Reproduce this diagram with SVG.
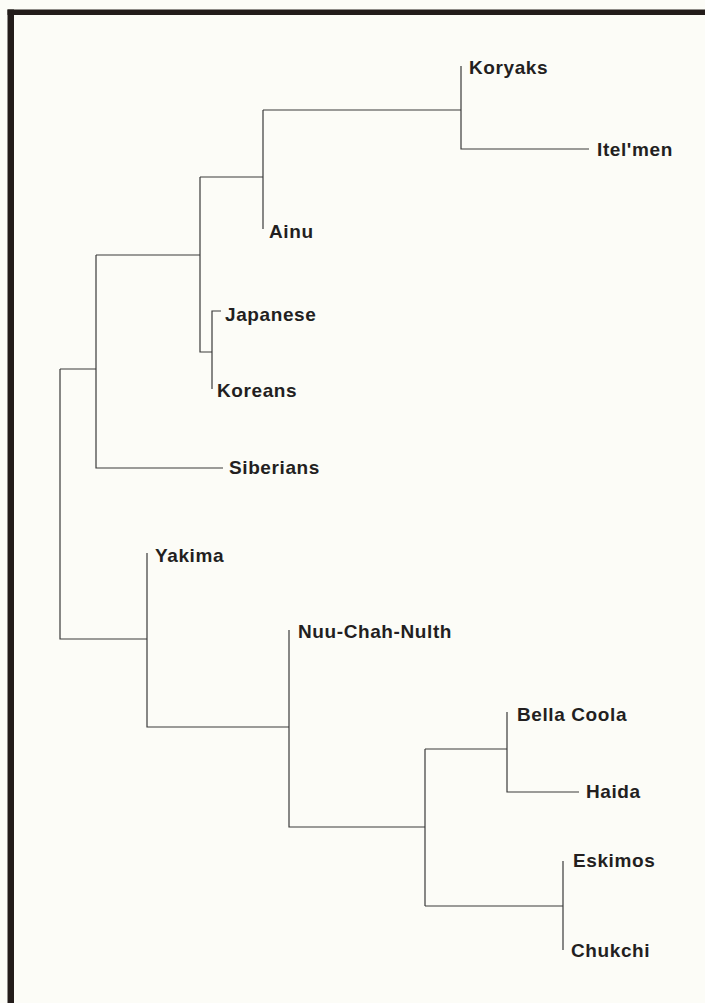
<svg xmlns="http://www.w3.org/2000/svg" width="705" height="1003" viewBox="0 0 705 1003">
<style>
.lbl{font-family:"Liberation Sans",Arial,sans-serif;font-weight:bold;font-size:19px;letter-spacing:0.6px;fill:#231f1f}
.br{stroke:#3a3a3a;stroke-width:1.2;fill:none}
.frame{fill:#231c1a}
</style>
<rect x="0" y="0" width="705" height="1003" fill="#fcfcf7"/>
<g id="frame">
<rect class="frame" x="7.5" y="9.5" width="6.5" height="994"/>
<rect class="frame" x="7.5" y="9.5" width="698" height="5.5"/>
</g>
<g id="connectors" class="br">
<path d="M461 66V149H589"/>
<path d="M263 110H461"/>
<path d="M263 110V229"/>
<path d="M200 177H263"/>
<path d="M200 177V352H212"/>
<path d="M221 311H212V389"/>
<path d="M96 255H200"/>
<path d="M96 255V468H223"/>
<path d="M60 369H96"/>
<path d="M60 369V639H147"/>
<path d="M147 553V727H289"/>
<path d="M289 630V827H425"/>
<path d="M425 749V906"/>
<path d="M425 749H507"/>
<path d="M507 712V792H579"/>
<path d="M425 906H563"/>
<path d="M563 861V950"/>
</g>
<g id="koryaks"><text class="lbl" x="469" y="74">Koryaks</text></g>
<g id="itelmen"><text class="lbl" x="597" y="156">Itel'men</text></g>
<g id="ainu"><text class="lbl" x="269" y="238">Ainu</text></g>
<g id="japanese"><text class="lbl" x="225" y="321">Japanese</text></g>
<g id="koreans"><text class="lbl" x="217" y="397">Koreans</text></g>
<g id="siberians"><text class="lbl" x="229" y="474">Siberians</text></g>
<g id="yakima"><text class="lbl" x="155" y="562">Yakima</text></g>
<g id="nuu-chah-nulth"><text class="lbl" x="298" y="638">Nuu-Chah-Nulth</text></g>
<g id="bella-coola"><text class="lbl" x="517" y="721">Bella Coola</text></g>
<g id="haida"><text class="lbl" x="586" y="798">Haida</text></g>
<g id="eskimos"><text class="lbl" x="573" y="867">Eskimos</text></g>
<g id="chukchi"><text class="lbl" x="571" y="957">Chukchi</text></g>
</svg>
